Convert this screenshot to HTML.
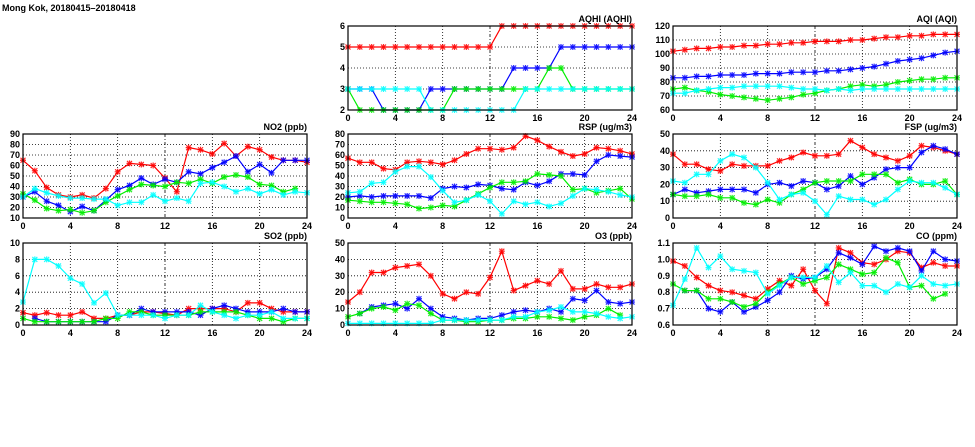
<!DOCTYPE html>
<html><head><meta charset="utf-8"><style>
html,body{margin:0;padding:0;background:#fff;width:975px;height:447px;overflow:hidden}
svg{display:block}
text{font-family:"Liberation Sans","DejaVu Sans",sans-serif;font-weight:bold;font-size:9px;fill:#000}
</style></head><body>
<svg id="chart" width="975" height="447" viewBox="0 0 975 447">
<text x="2" y="11" font-size="11">Mong Kok, 20180415–20180418</text>
</svg>
<script>
const hours=[0,1,2,3,4,5,6,7,8,9,10,11,12,13,14,15,16,17,18,19,20,21,22,23,24];
const xTicks=[0,4,8,12,16,20,24];
const seriesColors=["#ff0000","#0000ff","#00ee00","#00ffff"];
const aqhiRed=[5,5,5,5,5,5,5,5,5,5,5,5,5,6,6,6,6,6,6,6,6,6,6,6,6];
const aqhiBlue=[3,3,3,2,2,2,2,3,3,3,3,3,3,3,4,4,4,4,5,5,5,5,5,5,5];
const aqhiGreen=[3,2,2,2,2,2,2,2,2,3,3,3,3,3,3,3,3,4,4,3,3,3,3,3,3];
const aqhiCyan=[3,3,3,3,3,3,3,2,2,2,2,2,2,2,2,3,3,3,3,3,3,3,3,3,3];
const aqiRed=[102,103,104,104,105,105,106,106,107,107,108,108,109,109,109,110,110,111,112,112,113,113,114,114,114];
const aqiBlue=[83,83,84,84,85,85,85,86,86,86,87,87,87,88,88,89,90,91,93,95,96,97,99,101,102];
const aqiGreen=[75,76,74,73,71,70,69,68,67,68,69,71,72,74,75,77,78,77,78,80,81,82,82,83,83];
const aqiCyan=[72,72,74,75,76,76,77,77,77,77,76,75,75,74,75,74,75,75,75,75,75,75,75,75,75];
const no2Red=[65,55,39,32,30,32,29,38,54,62,61,60,48,35,77,75,71,81,69,78,75,68,65,65,63];
const no2Blue=[30,35,26,22,16,21,17,27,37,41,48,42,47,44,54,52,58,63,69,54,61,53,65,65,65];
const no2Green=[33,27,19,17,18,15,17,25,31,37,42,41,40,44,43,47,43,49,51,49,42,41,35,38,null];
const no2Cyan=[30,38,34,31,29,29,28,28,22,25,25,32,26,29,26,43,44,40,35,38,33,37,32,35,34];
const rspRed=[57,53,53,47,46,53,54,53,51,55,61,66,66,65,67,78,74,68,63,59,61,67,66,64,61];
const rspBlue=[20,21,20,21,21,21,21,19,28,30,29,32,31,28,27,34,31,35,42,42,41,54,60,59,58];
const rspGreen=[17,16,15,15,14,13,9,10,12,11,17,23,29,34,34,35,42,41,40,27,28,24,26,28,18];
const rspCyan=[24,25,33,34,44,49,49,39,26,15,17,22,16,4,16,13,15,11,14,21,28,27,25,22,20];
const fspRed=[38,32,32,29,28,32,31,31,31,34,36,39,37,37,38,46,42,38,36,34,37,43,42,40,38];
const fspBlue=[14,17,15,16,17,17,17,15,20,21,19,22,21,17,19,25,20,24,29,30,30,39,43,41,38];
const fspGreen=[14,13,13,14,12,12,9,8,11,9,14,17,21,22,22,22,26,26,26,21,23,20,20,22,14];
const fspCyan=[22,21,26,26,34,38,36,30,21,11,14,15,10,2,13,11,11,8,11,17,22,21,21,18,14];
const so2Red=[1.5,1.2,1.5,1.2,1.2,1.6,0.8,0.8,1.2,1.2,1.6,1.6,1.4,1.2,2.0,2.0,2.0,2.0,1.6,2.7,2.7,2.0,1.6,1.6,1.6];
const so2Blue=[null,0.8,0.4,0.4,0.4,0.4,0.4,0.4,1.2,1.2,2.0,1.6,1.6,1.6,1.6,1.2,2.0,2.4,2.0,1.6,1.6,1.6,2.0,1.6,1.6];
const so2Green=[0.8,0.4,0.4,0.4,0.4,0.4,0.4,0.8,0.8,1.6,1.6,1.2,1.2,1.2,1.2,1.6,1.6,1.6,1.6,1.2,0.8,0.8,0.4,0.8,0.8];
const so2Cyan=[2.8,8,8,7.2,5.7,5.0,2.7,3.9,1.2,1.2,1.2,1.2,0.8,1.2,1.2,2.4,1.6,1.2,0.8,1.2,1.2,1.6,0.8,0.8,0.8];
const o3Red=[14,20,32,32,35,36,37,30,19,16,20,19,29,45,21,24,27,25,33,22,22,25,23,23,25];
const o3Blue=[null,7,11,12,13,10,16,10,5,4,3,4,4,6,8,9,8,10,8,16,15,21,14,13,14];
const o3Green=[5,7,10,11,9,13,12,7,3,3,2,2,3,3,4,4,5,5,4,3,5,6,10,6,null];
const o3Cyan=[1,1,1,1,1,1,1,1,3,3,3,3,3,3,5,5,8,9,11,8,8,7,5,4,5];
const coRed=[0.99,0.96,0.89,0.84,0.81,0.80,0.78,0.76,0.82,0.87,0.84,0.94,0.81,0.73,1.07,1.04,0.98,0.97,1.00,1.05,1.04,0.95,0.98,0.96,0.96];
const coBlue=[null,0.81,0.81,0.70,0.68,0.74,0.68,0.71,0.75,0.80,0.90,0.88,0.89,0.94,1.04,1.01,0.97,1.08,1.05,1.07,1.05,0.93,1.05,1.00,0.99];
const coGreen=[0.85,0.81,0.81,0.76,0.76,0.74,0.71,0.73,0.80,0.85,0.89,0.85,0.87,0.89,0.97,0.94,0.91,0.92,1.01,0.98,0.83,0.84,0.76,0.79,null];
const coCyan=[0.72,0.88,1.07,0.95,1.02,0.94,0.93,0.92,0.79,0.84,0.89,0.89,0.89,0.96,0.86,0.92,0.84,0.84,0.80,0.85,0.83,0.90,0.85,0.84,0.85];
const aqhiTicks=[2,3,4,5,6];
const aqiTicks=[60,70,80,90,100,110,120];
const no2Ticks=[10,20,30,40,50,60,70,80,90];
const rspTicks=[0,10,20,30,40,50,60,70,80];
const fspTicks=[0,10,20,30,40,50];
const so2Ticks=[0,2,4,6,8,10];
const o3Ticks=[0,10,20,30,40,50];
const coTicks=[0.6,0.7,0.8,0.9,1.0,1.1];
const coLabels=["0.6","0.7","0.8","0.9","1.0","1.1"];

const NS="http://www.w3.org/2000/svg";
const svg=document.getElementById('chart');
function mk(tag,attrs,parent){const e=document.createElementNS(NS,tag);for(const k in attrs)e.setAttribute(k,attrs[k]);(parent||svg).appendChild(e);return e;}

function panel(key,title,L,T,R,B,yTicks,yLabels,series){
  const g=mk('g',{});
  
  
  const ymin=yTicks[0],ymax=yTicks[yTicks.length-1];
  const xs=v=>L+(v-0)/(24)*(R-L);
  const ys=v=>B-(v-ymin)/(ymax-ymin)*(B-T);
  yTicks.forEach((t,i)=>{
    const y=ys(t);
    if(i>0&&i<yTicks.length-1){const gl=mk('line',{x1:L,x2:R,y1:y,y2:y,stroke:'#000','stroke-width':0.8,'stroke-dasharray':'1,2'},g);
      
      }
    const tx=mk('text',{x:L-3,y:y+3,'text-anchor':'end'},g);tx.textContent=yLabels?yLabels[i]:t;
    
    
  });
  xTicks.forEach((t,i)=>{
    const x=xs(t);
    if(i>0&&i<xTicks.length-1){const gl=mk('line',{x1:x,x2:x,y1:T,y2:B,stroke:'#000','stroke-width':0.8,'stroke-dasharray':t===12?'3,2,1,2':'1,2'},g);
      
      }
    const tx=mk('text',{x:x,y:B+11,'text-anchor':'middle'},g);tx.textContent=t;
    
    
  });
  series.forEach((data,si)=>{
    const col=seriesColors[si];
    let d='',pen=false;
    data.forEach((v,i)=>{if(v===null){pen=false;return;}d+=(pen?'L':'M')+xs(hours[i]).toFixed(1)+' '+ys(v).toFixed(1);pen=true;});
    const p=mk('path',{d:d,fill:'none',stroke:col,'stroke-width':1.2},g);
    
    
    data.forEach((v,i)=>{if(v===null)return;const x=xs(hours[i]),y=ys(v);
      const m=mk('path',{d:`M${x-2.5} ${y-2.5}L${x+2.5} ${y+2.5}M${x-2.5} ${y+2.5}L${x+2.5} ${y-2.5}M${x-3} ${y}L${x+3} ${y}M${x} ${y-3}L${x} ${y+3}`,stroke:col,'stroke-width':1.2,opacity:0.85},g);
      
      
    });
  });
  const fr=mk('rect',{x:L,y:T,width:R-L,height:B-T,fill:'none',stroke:'#000','stroke-width':1.2},g);
  
  
  const tt=mk('text',{x:R,y:T-4,'text-anchor':'end'},g);tt.textContent=title;
  
  
}
panel('aqhi','AQHI (AQHI)',348,26,632,110,aqhiTicks,null,[aqhiRed,aqhiBlue,aqhiGreen,aqhiCyan]);
panel('aqi','AQI (AQI)',673,26,957,110,aqiTicks,null,[aqiRed,aqiBlue,aqiGreen,aqiCyan]);
panel('no2','NO2 (ppb)',23,134,307,218,no2Ticks,null,[no2Red,no2Blue,no2Green,no2Cyan]);
panel('rsp','RSP (ug/m3)',348,134,632,218,rspTicks,null,[rspRed,rspBlue,rspGreen,rspCyan]);
panel('fsp','FSP (ug/m3)',673,134,957,218,fspTicks,null,[fspRed,fspBlue,fspGreen,fspCyan]);
panel('so2','SO2 (ppb)',23,243,307,325,so2Ticks,null,[so2Red,so2Blue,so2Green,so2Cyan]);
panel('o3','O3 (ppb)',348,243,632,325,o3Ticks,null,[o3Red,o3Blue,o3Green,o3Cyan]);
panel('co','CO (ppm)',673,243,957,325,coTicks,coLabels,[coRed,coBlue,coGreen,coCyan]);
</script>
</body></html>
